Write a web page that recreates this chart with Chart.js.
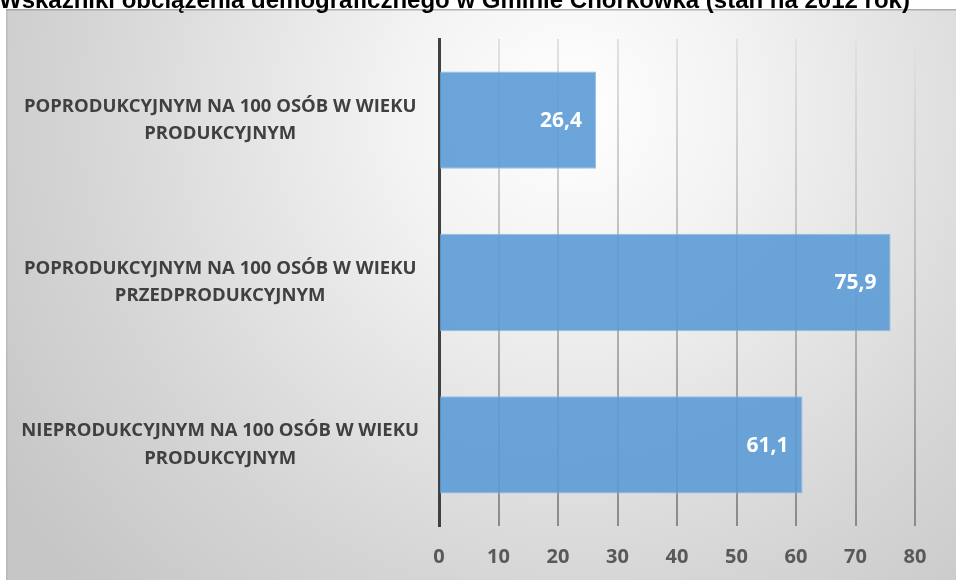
<!DOCTYPE html>
<html>
<head>
<meta charset="utf-8">
<script src="https://cdn.jsdelivr.net/npm/chart.js@4/dist/chart.umd.min.js"></script>
<style>
  html, body { margin: 0; padding: 0; background: #ffffff; }
  #wrap { width: 956px; height: 580px; position: relative; }
</style>
</head>
<body>
<div id="wrap"><canvas id="c" width="956" height="580"></canvas></div>
<script>
const titleText = 'Wskaźniki obciążenia demograficznego w Gminie Chorkówka (stan na 2012 rok)';
const categories = [
  ['POPRODUKCYJNYM NA 100 OSÓB W WIEKU', 'PRODUKCYJNYM'],
  ['POPRODUKCYJNYM NA 100 OSÓB W WIEKU', 'PRZEDPRODUKCYJNYM'],
  ['NIEPRODUKCYJNYM NA 100 OSÓB W WIEKU', 'PRODUKCYJNYM']
];
const values = [26.4, 75.9, 61.1];
const valueLabels = ['26,4', '75,9', '61,1'];
const xTicks = [0, 10, 20, 30, 40, 50, 60, 70, 80];

const backgroundPlugin = {
  id: 'panelBg',
  beforeDraw(chart) {
    const ctx = chart.ctx;
    const W = chart.width, H = chart.height;
    ctx.save();
    ctx.fillStyle = '#ffffff';
    ctx.fillRect(0, 0, W, H);
    const g = ctx.createRadialGradient(570, 110, 0, 570, 110, 680);
    g.addColorStop(0, '#ffffff');
    g.addColorStop(0.25, '#f3f3f3');
    g.addColorStop(0.7, '#d6d6d6');
    g.addColorStop(1, '#c6c6c6');
    ctx.fillStyle = g;
    ctx.fillRect(6, 9, W - 6, H - 9);
    ctx.fillStyle = 'rgba(150,150,150,0.7)';
    ctx.fillRect(6, 9, W - 6, 1.5);
    ctx.fillStyle = 'rgba(170,170,170,0.5)';
    ctx.fillRect(6, 9, 1.5, H - 9);
    // title
    ctx.fillStyle = '#000000';
    ctx.font = 'bold 24px "Liberation Sans", Arial, sans-serif';
    ctx.textAlign = 'left';
    ctx.textBaseline = 'alphabetic';
    ctx.fillText(titleText, -1, 8);
    ctx.restore();
  }
};

const valueLabelPlugin = {
  id: 'valueLabels',
  afterDatasetsDraw(chart) {
    const ctx = chart.ctx;
    const meta = chart.getDatasetMeta(0);
    ctx.save();
    ctx.fillStyle = '#ffffff';
    ctx.font = 'bold 21px "Open Sans", sans-serif';
    ctx.textAlign = 'right';
    ctx.textBaseline = 'middle';
    meta.data.forEach((bar, i) => {
      ctx.fillText(valueLabels[i], bar.x - 14, bar.y + 1);
    });
    ctx.restore();
  }
};

function gridColor(context) {
  const chart = context.chart;
  const area = chart.chartArea;
  if (!area) return '#c8c8c8';
  const g = chart.ctx.createLinearGradient(0, area.top, 0, area.bottom);
  g.addColorStop(0, '#e2e2e2');
  g.addColorStop(0.45, '#bdbdbd');
  g.addColorStop(1, '#8a8a8a');
  return g;
}

new Chart(document.getElementById('c'), {
  type: 'bar',
  data: {
    labels: categories,
    datasets: [{
      data: values,
      backgroundColor: 'rgba(91,155,213,0.9)',
      borderColor: 'rgba(140,185,228,0.9)',
      borderWidth: 1,
      barPercentage: 0.6,
      categoryPercentage: 1.0
    }]
  },
  options: {
    indexAxis: 'y',
    responsive: false,
    animation: false,
    devicePixelRatio: 1,
    layout: { padding: { left: 6, top: 39, right: 41, bottom: 0 } },
    plugins: {
      legend: { display: false },
      tooltip: { enabled: false },
      title: { display: false }
    },
    scales: {
      x: {
        type: 'linear',
        min: 0,
        max: 80,
        afterBuildTicks(scale) { scale.ticks = xTicks.map(v => ({ value: v })); },
        afterFit(scale) { scale.height = 54; scale.paddingLeft = 0; scale.paddingRight = 0; },
        grid: {
          color: gridColor,
          lineWidth: 2,
          drawTicks: false
        },
        border: { display: false },
        ticks: {
          padding: 19,
          color: '#595959',
          font: { family: '"Open Sans", sans-serif', size: 20, weight: 'bold' }
        }
      },
      y: {
        afterFit(scale) { scale.width = 433; scale.paddingTop = 0; scale.paddingBottom = 0; },
        grid: { display: false, drawTicks: false },
        border: { display: true, color: '#404040', width: 3 },
        ticks: {
          crossAlign: 'center',
          padding: 20,
          color: '#404040',
          font: { family: '"Open Sans", sans-serif', size: 18.5, weight: 'bold', lineHeight: 1.48 }
        }
      }
    }
  },
  plugins: [backgroundPlugin, valueLabelPlugin]
});
</script>
</body>
</html>
